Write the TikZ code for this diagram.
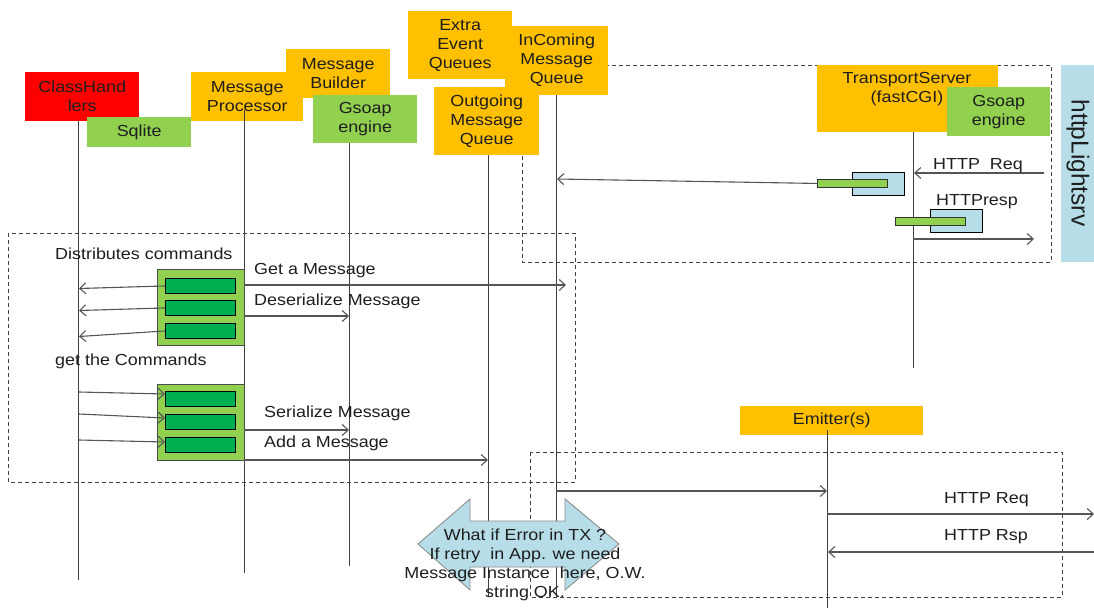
\documentclass[tikz,border=0pt]{standalone}
\usepackage{fontspec}
\setmainfont{Liberation Sans}[FakeStretch=1.12]
\newfontfamily\vertfont{Liberation Sans}
\usetikzlibrary{arrows.meta}

\definecolor{gold}{HTML}{FFC000}
\definecolor{leaf}{HTML}{92D050}
\definecolor{deepgreen}{HTML}{00B050}
\definecolor{paleblue}{HTML}{B7DEE8}
\definecolor{ink}{HTML}{1E1E1E}
\definecolor{wire}{HTML}{404040}
\definecolor{msgline}{HTML}{555555}

\begin{document}
\begin{tikzpicture}[x=1pt,y=-1pt,
  every node/.style={font=\fontsize{16}{19}\selectfont, text=ink},
  hbox/.style={inner sep=0pt, align=center, anchor=north west},
  lbl/.style={inner sep=0pt, anchor=west, text height=12pt, text depth=3.5pt},
  life/.style={draw=wire, line width=1pt},
  msg/.style={draw=msgline, line width=1.1pt, -{Straight Barb[length=6pt,width=11pt,line width=1.1pt]}},
  fence/.style={draw=wire, line width=0.9pt, dash pattern=on 4pt off 3pt},
  grp/.style={fill=leaf, draw=black!70, line width=0.9pt, inner sep=0pt, anchor=north west,
              minimum width=87pt, minimum height=76pt},
  cmd/.style={fill=deepgreen, draw=black, line width=0.9pt, inner sep=0pt, anchor=north west,
              minimum width=70pt, minimum height=15pt},
  actbox/.style={fill=paleblue, draw=black, line width=0.9pt, inner sep=0pt, anchor=north west,
              minimum width=52pt, minimum height=23pt},
  actbar/.style={fill=leaf, draw=black!80, line width=0.9pt, inner sep=0pt, anchor=north west,
              minimum width=70pt, minimum height=8pt}]

\useasboundingbox (0,0) rectangle (1094,608);

% ---- dashed frames ----
\draw[fence] (522,65) rectangle (1051,262);
\draw[fence] (8,233) rectangle (575,482);
\draw[fence] (530,452) rectangle (1062,597);

% ---- participant headers ----
\node[hbox, fill=red, minimum width=114pt, minimum height=49pt] (ch) at (25,72) {ClassHand\\lers};
\node[hbox, fill=leaf, minimum width=104pt, minimum height=30pt] (sql) at (87,117) {Sqlite};
\node[hbox, fill=gold, minimum width=112pt, minimum height=49pt] (mp) at (191,72) {Message\\Processor};
\node[hbox, fill=gold, minimum width=104pt, minimum height=49pt] (mb) at (286,49) {Message\\Builder};
\node[hbox, fill=leaf, minimum width=104pt, minimum height=48pt] (gs) at (313,95) {Gsoap\\engine};
\node[hbox, fill=gold, minimum width=103pt, minimum height=69pt] (inq) at (505,26) {InComing\\Message\\Queue};
\node[hbox, fill=gold, minimum width=104pt, minimum height=68pt] (xq) at (408,11) {Extra\\Event\\Queues};
\node[hbox, fill=gold, minimum width=105pt, minimum height=68pt] (outq) at (434,87) {Outgoing\\Message\\Queue};
\node[hbox, fill=gold, minimum width=181pt, minimum height=67pt] (ts) at (817,65) {};
\node[inner sep=0pt, align=center] (tstext) at (907,89) {TransportServer\\(fastCGI)};
\node[hbox, fill=leaf, minimum width=103pt, minimum height=49pt] (gs2) at (947,87) {Gsoap\\engine};
\node[hbox, fill=paleblue, minimum width=33pt, minimum height=197pt] (hls) at (1061,65) {};
\node[rotate=-90, inner sep=0pt] (hlstext) at (1078,163) {\vertfont\fontsize{24.5}{28}\selectfont httpLightsrv};
\node[hbox, fill=gold, minimum width=183pt, minimum height=29pt] (em) at (740,406) {Emitter(s)};

% ---- lifelines ----
\coordinate (l1t) at (78.5,121);  \coordinate (l1b) at (78.5,580);
\coordinate (l2t) at (244,110);   \coordinate (l2b) at (244,573);
\coordinate (l3t) at (349,143);   \coordinate (l3b) at (349,566);
\coordinate (l4t) at (488,155);   \coordinate (l4b) at (488,597);
\coordinate (l5t) at (556,95);    \coordinate (l5b) at (556,597);
\coordinate (l6t) at (913,132);   \coordinate (l6b) at (913,368);
\coordinate (l7t) at (827,430);   \coordinate (l7b) at (827,608);
\foreach \a/\b in {l1t/l1b,l2t/l2b,l3t/l3b,l4t/l4b,l5t/l5b,l6t/l6b,l7t/l7b}
  \draw[life] (\a) -- (\b);

% ---- command groups on the processor ----
\node[grp] (g1) at (157,269) {};
\node[cmd] (c11) at (165,278) {};
\node[cmd] (c12) at (165,300) {};
\node[cmd] (c13) at (165,323) {};
\node[grp] (g2) at (157,384) {};
\node[cmd] (c21) at (165,391) {};
\node[cmd] (c22) at (165,414) {};
\node[cmd] (c23) at (165,437) {};

% ---- transport server activations ----
\node[actbox] (a1) at (852,172) {};
\node[actbar] (b1) at (817,179) {};
\node[actbox] (a2) at (930,209) {};
\node[actbar] (b2) at (895,217) {};

% ---- error-handling callout ----
\draw[fill=paleblue, draw=black!45, line width=0.9pt]
  (418,544) -- (470,499) -- (470,521) -- (565,521) -- (565,499) -- (619,544)
  -- (565,590) -- (565,567) -- (470,567) -- (470,590) -- cycle;
\node[inner sep=0pt, align=center] (err) at (525,565)
  {What if Error in TX ?\\If retry\ \ in App. we need\\Message Instance\ \ here, O.W.\\string OK.};

% ---- message end points ----
\coordinate (d11) at (79,288.5);
\coordinate (d12) at (79,310.5);
\coordinate (d13) at (79,336.5);
\coordinate (s21) at (79,392);  \coordinate (t21) at (165,394);
\coordinate (s22) at (79,414);  \coordinate (t22) at (165,418);
\coordinate (s23) at (79,440);  \coordinate (t23) at (165,442);
\coordinate (getS) at (244,285);  \coordinate (getE) at (566,285);
\coordinate (desS) at (244,316);  \coordinate (desE) at (349,316);
\coordinate (serS) at (244,430);  \coordinate (serE) at (349,430);
\coordinate (addS) at (244,460);  \coordinate (addE) at (488,460);
\coordinate (inE)  at (557,179);
\coordinate (reqS) at (1044,173); \coordinate (reqE) at (914,173);
\coordinate (rspS) at (913,239);  \coordinate (rspE) at (1034,239);
\coordinate (emS)  at (556,491);  \coordinate (emE)  at (827,491);
\coordinate (hqS)  at (827,514);  \coordinate (hqE)  at (1094,514);
\coordinate (hrS)  at (1094,552); \coordinate (hrE)  at (828,552);

% ---- messages ----
\draw[msg] (c11.west) -- (d11);
\draw[msg] (c12.west) -- (d12);
\draw[msg] (c13.west) -- (d13);
\draw[msg] (s21) -- (t21);
\draw[msg] (s22) -- (t22);
\draw[msg] (s23) -- (t23);
\draw[msg] (getS) -- (getE);
\draw[msg] (desS) -- (desE);
\draw[msg] (serS) -- (serE);
\draw[msg] (addS) -- (addE);
\draw[msg] (b1.west) -- (inE);
\draw[msg] (reqS) -- (reqE);
\draw[msg] (rspS) -- (rspE);
\draw[msg] (emS) -- (emE);
\draw[msg] (hqS) -- (hqE);
\draw[msg] (hrS) -- (hrE);

% ---- labels ----
\node[lbl] (lDist) at (55,255) {Distributes commands};
\node[lbl] (lGet)  at (254,270) {Get a Message};
\node[lbl] (lDes)  at (254,301) {Deserialize Message};
\node[lbl] (lCmd)  at (55,361) {get the Commands};
\node[lbl] (lSer)  at (264,413) {Serialize Message};
\node[lbl] (lAdd)  at (264,443) {Add a Message};
\node[lbl] (lReq)  at (933,165) {HTTP\ \ Req};
\node[lbl] (lResp) at (936,201) {HTTPresp};
\node[lbl] (lReq2) at (944,499) {HTTP Req};
\node[lbl] (lRsp2) at (944,536) {HTTP Rsp};

\end{tikzpicture}
\end{document}
